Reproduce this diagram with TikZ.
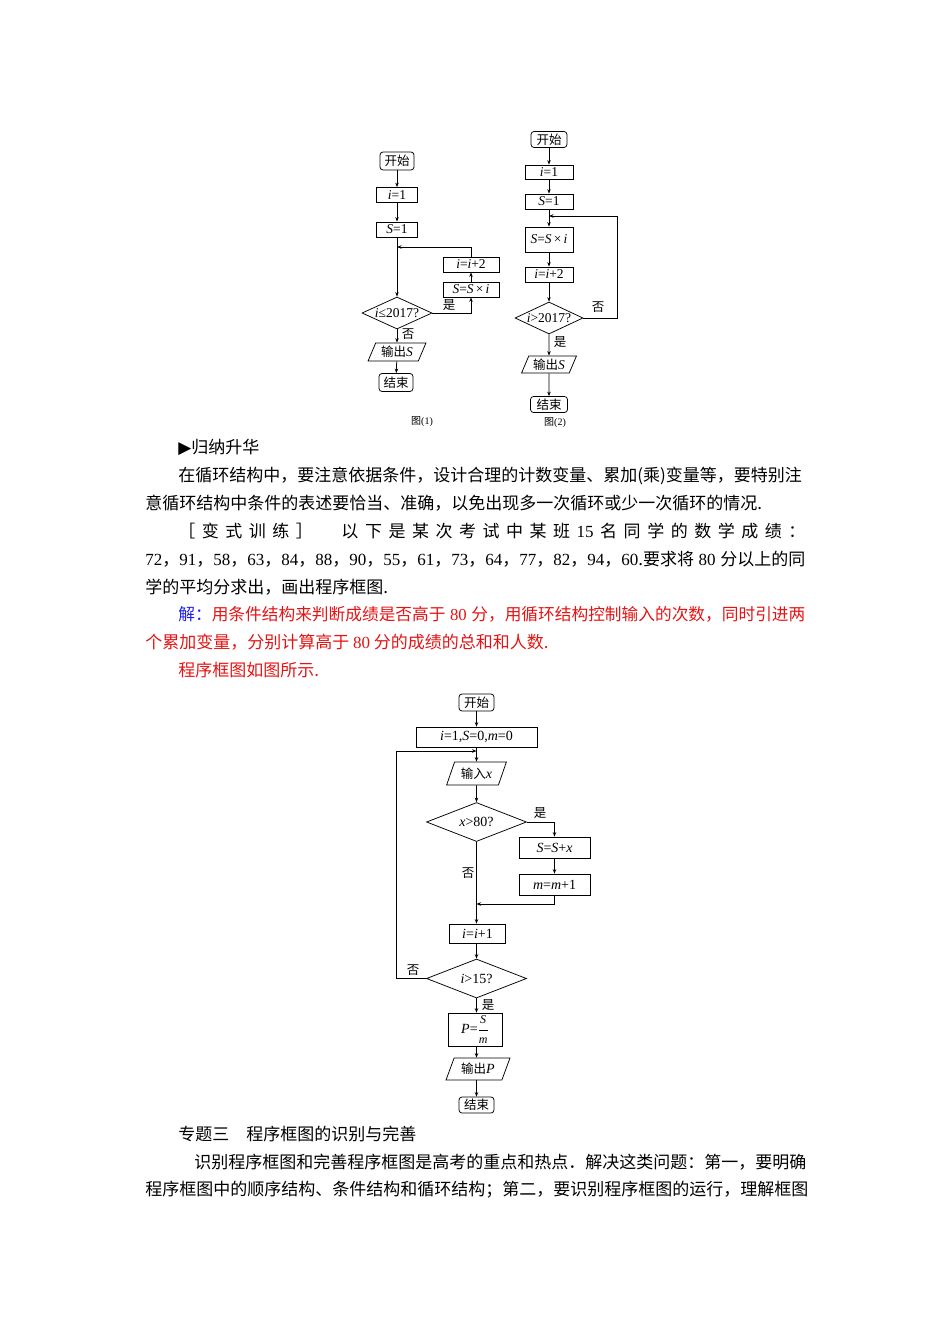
\documentclass[tikz,border=0pt]{standalone}
\usepackage{fontspec}
\setmainfont{Liberation Serif}
\newfontfamily\cjk{Noto Sans CJK SC}
\newfontfamily\sym{DejaVu Sans}
\usetikzlibrary{arrows.meta,shapes.geometric}
\XeTeXlinebreaklocale "zh"
\XeTeXlinebreakskip = 0pt plus 1pt
\definecolor{ansred}{RGB}{228,20,20}
\definecolor{ansblue}{RGB}{30,30,230}
\newcommand{\fv}[1]{\textit{#1}}
\newcommand{\zh}[1]{{\cjk\fontsize{12.5}{13}\selectfont #1}}
\newcommand{\dg}[1]{{\rmfamily #1}}
\newcommand{\flowfont}{\fontsize{13.5}{14}\selectfont}
\tikzset{
  termbox/.style={draw, rounded corners=3pt, align=center, minimum width=34pt, minimum height=18pt, inner sep=1pt, font=\flowfont},
  procbox/.style={draw, align=center, minimum height=15pt, inner sep=1pt, font=\flowfont},
  iobox/.style={draw, trapezium, trapezium left angle=66, trapezium right angle=114, trapezium stretches=true, minimum height=18pt, inner sep=1pt, font=\flowfont},
  decbox/.style={draw, diamond, shape aspect=2, inner xsep=-7pt, inner ysep=-2pt, font=\flowfont},
  bigtext/.style={font=\fontsize{14}{14}\selectfont},
  flowarrow/.style={-{Stealth[length=4.5pt,width=3.5pt]}, line width=0.75pt},
  flowlabel/.style={inner sep=0pt, font=\cjk\fontsize{12.5}{12}\selectfont},
  captlabel/.style={inner sep=0pt, font=\fontsize{10}{10}\selectfont},
  bodyline/.style={anchor=west, inner sep=0pt, font=\cjk\fontsize{17}{17}\selectfont}
}

\begin{document}
\begin{tikzpicture}[x=1pt, y=-1pt, line width=0.75pt]
\useasboundingbox (0,0) rectangle (950,1344);

% fig (1)
\node[termbox] (start1) at (397,161) {\zh{开始}};
\node[procbox, minimum width=41pt] (init1) at (397,195) {\fv{i}=1};
\node[procbox, minimum width=41pt] (sum1) at (397,229.5) {\fv{S}=1};
\node[decbox, minimum width=70pt, minimum height=32pt] (cond1) at (397,313) {\fv{i}≤2017?};
\node[procbox, minimum width=56pt] (mul1) at (471,289.5) {\fv{S}=\fv{S}\,×\,\fv{i}};
\node[procbox, minimum width=56pt] (inc1) at (471,264.5) {\fv{i}=\fv{i}+2};
\node[iobox, minimum width=58pt] (out1) at (397,352) {\zh{输出}\fv{S}};
\node[termbox] (end1) at (396,382.5) {\zh{结束}};
\node[captlabel] (cap1) at (422,422) {{\cjk 图}(1)};
\coordinate (back1) at (397,247);
\draw[flowarrow] (start1) -- (init1);
\draw[flowarrow] (init1) -- (sum1);
\draw[flowarrow] (sum1) -- (cond1);
\draw[flowarrow] (cond1.east) -| (mul1.south);
\draw[flowarrow] (mul1) -- (inc1);
\draw[flowarrow] (inc1.north) |- (back1);
\draw[flowarrow] (cond1) -- (out1);
\draw[flowarrow] (out1) -- (end1);
\node[flowlabel] (yes1) at (449,305) {是};
\node[flowlabel] (no1) at (408,334) {否};

% fig (2)
\node[termbox, minimum height=16pt, minimum width=36pt] (start2) at (549,139.5) {\zh{开始}};
\node[procbox, minimum width=48pt, minimum height=14pt] (init2) at (549,172) {\fv{i}=1};
\node[procbox, minimum width=48pt] (sum2) at (549,201.5) {\fv{S}=1};
\node[procbox, minimum width=48pt, minimum height=25pt] (mul2) at (549,239.5) {\fv{S}=\fv{S}\,×\,\fv{i}};
\node[procbox, minimum width=48pt] (inc2) at (549,274.5) {\fv{i}=\fv{i}+2};
\node[decbox, minimum width=68pt, minimum height=32pt] (cond2) at (549,318) {\fv{i}>2017?};
\node[iobox, minimum width=55pt, minimum height=17pt] (out2) at (549,364.5) {\zh{输出}\fv{S}};
\node[termbox, minimum width=37pt, minimum height=16pt] (end2) at (549,404.5) {\zh{结束}};
\node[captlabel] (cap2) at (555,423) {{\cjk 图}(2)};
\coordinate (back2) at (549,216);
\coordinate (corner2) at (617,216);
\draw[flowarrow] (start2) -- (init2);
\draw[flowarrow] (init2) -- (sum2);
\draw[flowarrow] (sum2) -- (mul2);
\draw[flowarrow] (mul2) -- (inc2);
\draw[flowarrow] (inc2) -- (cond2);
\draw[flowarrow] (cond2.east) -| (corner2) -- (back2);
\draw[flowarrow] (cond2) -- (out2);
\draw[flowarrow] (out2) -- (end2);
\node[flowlabel] (no2) at (598,307) {否};
\node[flowlabel] (yes2) at (560,342) {是};

% text
\node[bodyline] (head) at (178,447) {{\sym\fontsize{17}{17}\selectfont ▶}归纳升华};
\node[bodyline] (par1) at (178,476) {\makebox[627pt][s]{在循环结构中，要注意依据条件，设计合理的计数变量、累加(乘)变量等，要特别注}};
\node[bodyline] (par2) at (145,503) {意循环结构中条件的表述要恰当、准确，以免出现多一次循环或少一次循环的情况.};
\node[bodyline] (par3) at (178,531) {\makebox[627pt][s]{［ 变 式 训 练 ］\hspace{22pt} 以 下 是 某 次 考 试 中 某 班 \dg{15} 名 同 学 的 数 学 成 绩 ：}};
\node[bodyline] (par4) at (145,559) {\makebox[660pt][s]{\dg{72}，\dg{91}，\dg{58}，\dg{63}，\dg{84}，\dg{88}，\dg{90}，\dg{55}，\dg{61}，\dg{73}，\dg{64}，\dg{77}，\dg{82}，\dg{94}，\dg{60}.要求将 \dg{80} 分以上的同}};
\node[bodyline] (par5) at (145,587) {学的平均分求出，画出程序框图.};
\node[bodyline, font=\cjk\fontsize{16.7}{17}\selectfont] (par6) at (178,614) {\makebox[627pt][s]{\textcolor{ansblue}{解：}\textcolor{ansred}{用条件结构来判断成绩是否高于 \dg{80} 分，用循环结构控制输入的次数，同时引进两}}};
\node[bodyline] (par7) at (145,642) {\textcolor{ansred}{个累加变量，分别计算高于 \dg{80} 分的成绩的总和和人数.}};
\node[bodyline] (par8) at (178,670) {\textcolor{ansred}{程序框图如图所示.}};

% fig (3)
\node[termbox, bigtext, minimum width=35pt, minimum height=17pt] (start3) at (476.5,702.5) {\zh{开始}};
\node[procbox, bigtext, minimum width=121pt, minimum height=20pt] (init3) at (476.5,737) {\fv{i}=1,\fv{S}=0,\fv{m}=0};
\node[iobox, bigtext, minimum width=60pt, minimum height=23pt] (in3) at (476.5,773.5) {\zh{输入}\fv{x}};
\node[decbox, bigtext, minimum width=100pt, minimum height=39pt] (cond3) at (476.5,822) {\fv{x}>80?};
\node[procbox, bigtext, minimum width=71pt, minimum height=21pt] (add3) at (554.5,847.5) {\fv{S}=\fv{S}+\fv{x}};
\node[procbox, bigtext, minimum width=71pt, minimum height=21pt] (cnt3) at (554.5,884.5) {\fv{m}=\fv{m}+1};
\node[procbox, bigtext, minimum width=56pt, minimum height=19pt] (inc3) at (477.5,933.5) {\fv{i}=\fv{i}+1};
\node[decbox, bigtext, minimum width=100pt, minimum height=39pt] (test3) at (476.5,978.5) {\fv{i}>15?};
\node[procbox, bigtext, minimum width=54pt, minimum height=33pt] (avg3) at (475,1029.5) {\fv{P}=$\displaystyle\frac{\mbox{\fontsize{12}{12}\selectfont\fv{S}}}{\mbox{\fontsize{12}{12}\selectfont\fv{m}}}$};
\node[iobox, bigtext, minimum width=64pt, minimum height=22pt] (out3) at (478,1069) {\zh{输出}\fv{P}};
\node[termbox, bigtext, minimum width=35pt, minimum height=16pt] (end3) at (476.5,1105) {\zh{结束}};
\coordinate (merge3) at (476.5,904);
\coordinate (back3) at (476.5,751);
\coordinate (corner3) at (396,751);
\draw[flowarrow] (start3) -- (init3);
\draw[flowarrow] (init3) -- (in3);
\draw[flowarrow] (in3) -- (cond3);
\draw[flowarrow] (cond3.east) -| (add3.north);
\draw[flowarrow] (add3) -- (cnt3);
\draw[flowarrow] (cnt3.south) |- (merge3);
\draw[flowarrow] (cond3.south) -- (cond3.south |- inc3.north);
\draw[flowarrow] (inc3.south -| test3.north) -- (test3.north);
\draw[flowarrow] (test3.west) -| (corner3) -- (back3);
\draw[flowarrow] (test3.south) -- (test3.south |- avg3.north);
\draw[flowarrow] (avg3.south -| test3.south) -- (test3.south |- out3.north);
\draw[flowarrow] (out3.south -| end3.north) -- (end3.north);
\node[flowlabel] (yes3) at (540,813) {是};
\node[flowlabel] (no3) at (468,873) {否};
\node[flowlabel] (no4) at (413,970) {否};
\node[flowlabel] (yes4) at (488,1005) {是};

% text below
\node[bodyline] (sec3) at (178,1134) {专题三　程序框图的识别与完善};
\node[bodyline] (par9) at (194,1162) {\makebox[611pt][s]{识别程序框图和完善程序框图是高考的重点和热点．解决这类问题：第一，要明确}};
\node[bodyline] (par10) at (145,1190) {\makebox[660pt][s]{程序框图中的顺序结构、条件结构和循环结构；第二，要识别程序框图的运行，理解框图}};
\end{tikzpicture}
\end{document}
